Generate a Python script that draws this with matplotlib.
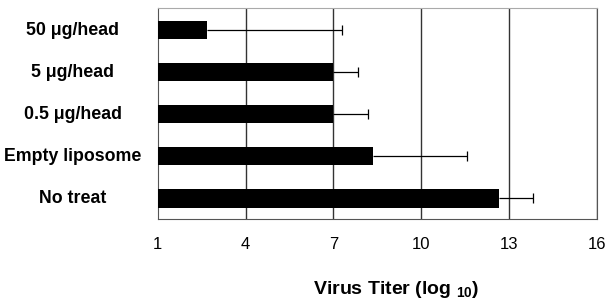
import matplotlib.pyplot as plt

groups = ["No treat", "Empty liposome", "0.5 μg/head", "5 μg/head", "50 μg/head"]
titer = [12.67, 8.37, 7.0, 7.0, 2.69]
err_up = [1.16, 3.19, 1.2, 0.83, 4.62]
xticks = [1, 4, 7, 10, 13, 16]

plt.rcParams["font.family"] = ["Liberation Sans", "DejaVu Sans"]

fig = plt.figure(figsize=(6.08, 3.0), dpi=100)
ax = fig.add_axes([157.7 / 608, 1 - 218.5 / 300, 439 / 608, 210.5 / 300])

pos = list(range(len(groups)))
ax.barh(pos, [t - 1 for t in titer], left=1, height=0.43, color="black", zorder=3)

# one-sided error bars, cap only at the outer end
ends = [t + e for t, e in zip(titer, err_up)]
ax.hlines(pos, titer, ends, color="black", lw=0.9, zorder=4)
ax.plot(ends, pos, linestyle="none", marker="|", markersize=7,
        markeredgewidth=0.9, color="black", zorder=4)

ax.set_xlim(1, 16)
ax.set_ylim(-0.476, 4.524)
ax.set_xticks(xticks)
ax.set_xticklabels([str(v) for v in xticks], fontsize=12)
ax.tick_params(axis="x", length=0, pad=13)
ax.set_yticks([])
for v in xticks[1:]:
    ax.axvline(v, color="#333333", lw=1.0, zorder=1)
for p, g in zip(pos, groups):
    ax.text(-0.193, p, g, transform=ax.get_yaxis_transform(), ha="center",
            va="center", fontsize=12.8, fontweight="bold")

for s in ["left", "top", "right", "bottom"]:
    ax.spines[s].set_color("#555555")
ax.spines["top"].set_color("#aaaaaa")

fig.text(396 / 608, 1 - 289 / 300, "Virus Titer (log $_{\\mathregular{10}}$)",
         ha="center", va="center", fontsize=14, fontweight="bold")

fig.savefig("out.png", dpi=100)
